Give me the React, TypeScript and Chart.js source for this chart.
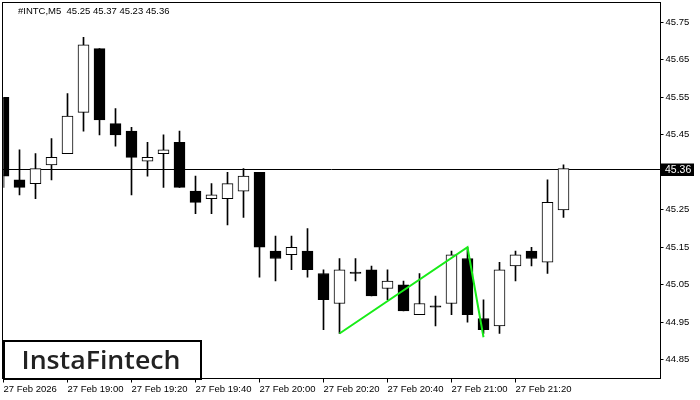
import React, { useEffect, useRef } from "react";
import { Chart, registerables } from "chart.js";

Chart.register(...registerables);

// ---- data ----
const symbolName = "#INTC,M5";
const times = [
  "18:40", "18:45", "18:50", "18:55", "19:00", "19:05", "19:10", "19:15",
  "19:20", "19:25", "19:30", "19:35", "19:40", "19:45", "19:50", "19:55",
  "20:00", "20:05", "20:10", "20:15", "20:20", "20:25", "20:30", "20:35",
  "20:40", "20:45", "20:50", "20:55", "21:00", "21:05", "21:10", "21:15",
  "21:20", "21:25", "21:30", "21:35",
];
const opens = [
  45.55, 45.33, 45.32, 45.37, 45.40, 45.51, 45.68, 45.48,
  45.46, 45.38, 45.40, 45.43, 45.30, 45.28, 45.28, 45.30,
  45.35, 45.14, 45.13, 45.14, 45.08, 45.00, 45.08, 45.09,
  45.04, 45.05, 44.97, 44.99, 45.00, 45.12, 44.96, 44.94,
  45.10, 45.14, 45.11, 45.25,
];
const highs = [
  45.55, 45.41, 45.40, 45.44, 45.56, 45.71, 45.68, 45.52,
  45.47, 45.43, 45.45, 45.46, 45.34, 45.32, 45.35, 45.36,
  45.35, 45.18, 45.18, 45.20, 45.09, 45.12, 45.12, 45.10,
  45.09, 45.06, 45.08, 45.02, 45.14, 45.15, 45.01, 45.11,
  45.14, 45.15, 45.33, 45.37,
];
const lows = [
  45.31, 45.29, 45.28, 45.33, 45.40, 45.46, 45.45, 45.42,
  45.29, 45.34, 45.31, 45.31, 45.24, 45.24, 45.21, 45.23,
  45.07, 45.06, 45.09, 45.07, 44.93, 44.92, 45.06, 45.02,
  45.01, 44.98, 44.97, 44.94, 44.97, 44.95, 44.92, 44.92,
  45.06, 45.10, 45.08, 45.23,
];
const closes = [
  45.34, 45.31, 45.36, 45.39, 45.50, 45.69, 45.49, 45.45,
  45.39, 45.39, 45.41, 45.31, 45.27, 45.29, 45.32, 45.34,
  45.15, 45.12, 45.15, 45.09, 45.01, 45.09, 45.08, 45.02,
  45.06, 44.98, 45.00, 44.99, 45.13, 44.97, 44.93, 45.09,
  45.13, 45.12, 45.27, 45.36,
];
const futureSlots = 6;
const xTickLabels = [
  "27 Feb 2026", "27 Feb 19:00", "27 Feb 19:20", "27 Feb 19:40", "27 Feb 20:00",
  "27 Feb 20:20", "27 Feb 20:40", "27 Feb 21:00", "27 Feb 21:20",
];
const xTickEvery = 4;
const yTicks = [44.85, 44.95, 45.05, 45.15, 45.25, 45.35, 45.45, 45.55, 45.65, 45.75];
const yMin = 44.8;
const yMax = 45.803;
const patternIdx = [21, 29, 30];
const patternVals = [44.92, 45.15, 44.91];

const FONT = '"Liberation Sans", Arial, sans-serif';

export default function App() {
  const canvasRef = useRef<HTMLCanvasElement | null>(null);

  useEffect(() => {
    const canvas = canvasRef.current;
    if (!canvas) return;

    const labels = [...times, ...Array(futureSlots).fill("")];
    const wickData = lows.map((l, i) => [l, highs[i]]);
    const bodyData = opens.map((o, i) => [o, closes[i]]);
    const bodyColors = opens.map((o, i) => (closes[i] <= o ? "#000000" : "#ffffff"));
    const patternData: (number | null)[] = labels.map(() => null);
    patternIdx.forEach((idx, k) => {
      patternData[idx] = patternVals[k];
    });

    const last = times.length - 1;
    const lastClose = closes[last];
    const isTick = (i: number) => i % xTickEvery === 0 && i / xTickEvery < xTickLabels.length;

    const overlay = {
      id: "mtOverlay",
      beforeDatasetsDraw(chart: any) {
        const { ctx, chartArea } = chart;
        const y = Math.round(chart.scales.y.getPixelForValue(lastClose)) + 0.5;
        ctx.save();
        ctx.strokeStyle = "#000";
        ctx.lineWidth = 1;
        ctx.beginPath();
        ctx.moveTo(chartArea.left - 1, y);
        ctx.lineTo(chartArea.right + 1, y);
        ctx.stroke();
        ctx.restore();
      },
      afterDraw(chart: any) {
        const { ctx, chartArea } = chart;
        ctx.save();
        // frame
        ctx.strokeStyle = "#000";
        ctx.lineWidth = 1;
        ctx.strokeRect(
          chartArea.left - 1,
          chartArea.top,
          chartArea.right - chartArea.left + 2,
          chartArea.bottom - chartArea.top
        );
        // header
        ctx.fillStyle = "#000";
        ctx.font = `9.5px ${FONT}`;
        ctx.textBaseline = "middle";
        ctx.textAlign = "left";
        const hdr = `${symbolName}  ${opens[last].toFixed(2)} ${highs[last].toFixed(2)} ${lows[last].toFixed(2)} ${closes[last].toFixed(2)}`;
        ctx.fillText(hdr, 18, 11);
        // price box
        const py = Math.round(chart.scales.y.getPixelForValue(lastClose)) + 0.5;
        ctx.fillStyle = "#000";
        ctx.fillRect(chartArea.right + 1.5, py - 6, 33, 12.5);
        ctx.fillStyle = "#fff";
        ctx.font = `10.5px ${FONT}`;
        ctx.fillText(lastClose.toFixed(2), chartArea.right + 5.5, py + 0.5);
        // logo
        const bx = 4, by = 341, bw = 197, bh = 38;
        ctx.fillStyle = "#fff";
        ctx.fillRect(bx, by, bw, bh);
        ctx.lineWidth = 2;
        ctx.strokeStyle = "#000";
        ctx.strokeRect(bx, by, bw, bh);
        ctx.fillStyle = "#222";
        ctx.font = `600 26px "Open Sans", ${FONT}`;
        ctx.textBaseline = "alphabetic";
        const txt = "InstaFintech";
        const w = ctx.measureText(txt).width;
        const sx = 159 / w;
        ctx.translate(21.5, 368.5);
        ctx.scale(sx, 1);
        ctx.fillText(txt, 0, 0);
        ctx.restore();
      },
    };

    const chart = new Chart(canvas, {
      type: "bar",
      data: {
        labels,
        datasets: [
          {
            type: "line",
            data: patternData,
            borderColor: "#18ec18",
            borderWidth: 2,
            pointRadius: 0,
            spanGaps: true,
            tension: 0,
            fill: false,
            order: -1,
          } as any,
          {
            data: bodyData,
            backgroundColor: bodyColors,
            borderColor: "#000",
            borderWidth: 1,
            borderSkipped: false,
            barThickness: 11,
            minBarLength: 1.5,
            grouped: false,
            order: 0,
          } as any,
          {
            data: wickData,
            backgroundColor: "#000",
            borderWidth: 0,
            barThickness: 1,
            grouped: false,
            order: 1,
          } as any,
        ],
      },
      options: {
        responsive: false,
        animation: false,
        devicePixelRatio: 1,
        layout: { padding: { left: 3.5, top: 2.5, right: 0.5, bottom: 0 } },
        plugins: {
          legend: { display: false },
          tooltip: { enabled: false },
        },
        scales: {
          x: {
            type: "category",
            offset: false,
            grid: {
              offset: false,
              drawOnChartArea: false,
              drawTicks: true,
              tickLength: 4,
              color: (c: any) => (isTick(c.index) ? "#000" : "rgba(0,0,0,0)"),
            },
            border: { display: false },
            ticks: {
              autoSkip: false,
              maxRotation: 0,
              minRotation: 0,
              align: "start",
              padding: 1,
              color: "#000",
              font: { family: FONT, size: 9.5 },
              callback: (_v: any, i: number) => (isTick(i) ? xTickLabels[i / xTickEvery] : ""),
            },
            afterFit: (s: any) => {
              s.height = 21.5;
              s.paddingLeft = 0;
              s.paddingRight = 0;
            },
          },
          y: {
            type: "linear",
            position: "right",
            min: yMin,
            max: yMax,
            grid: {
              drawOnChartArea: false,
              drawTicks: true,
              tickLength: 4,
              color: "#000",
            },
            border: { display: false },
            afterBuildTicks: (s: any) => {
              s.ticks = yTicks.map((v) => ({ value: v }));
            },
            ticks: {
              padding: 2,
              color: "#000",
              font: { family: FONT, size: 9.5 },
              callback: (v: any) => Number(v).toFixed(2),
            },
            afterFit: (s: any) => {
              s.width = 40;
              s.paddingTop = 0;
              s.paddingBottom = 0;
            },
          },
        },
      } as any,
      plugins: [overlay],
    });

    return () => chart.destroy();
  }, []);

  return (
    <div style={{ position: "fixed", left: 0, top: 0, width: 700, height: 400, background: "#fff" }}>
      <canvas ref={canvasRef} width={700} height={400} style={{ display: "block" }} />
    </div>
  );
}
